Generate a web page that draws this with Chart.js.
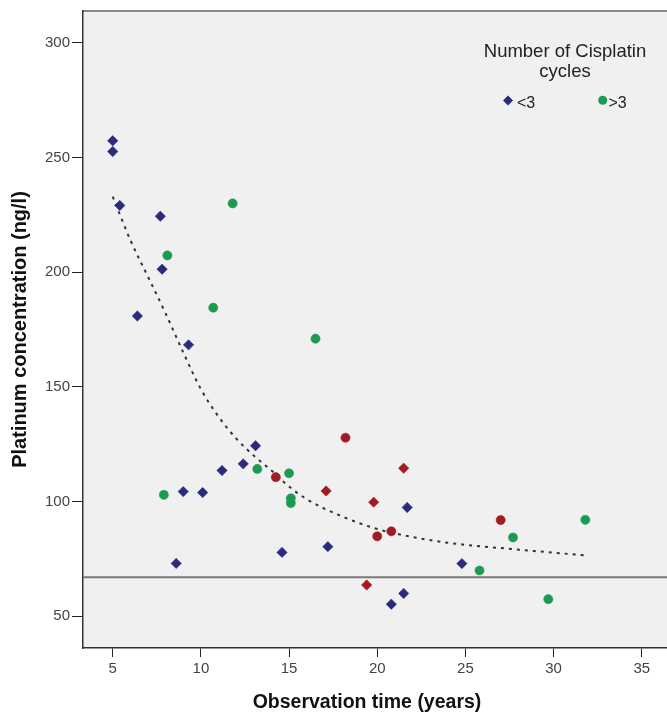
<!DOCTYPE html>
<html>
<head>
<meta charset="utf-8">
<script src="https://cdn.jsdelivr.net/npm/chart.js@4.4.1/dist/chart.umd.min.js"></script>
<style>
  html, body { margin: 0; padding: 0; background: #ffffff; width: 667px; height: 719px; overflow: hidden; }
  canvas { display: block; }
</style>
</head>
<body>
<canvas id="chart" width="700" height="719"></canvas>
<script>
// Axis ticks
const xTickValues = [5, 10, 15, 20, 25, 30, 35];
const yTickValues = [50, 100, 150, 200, 250, 300];

// Patients with fewer than 3 cisplatin cycles (blue diamonds)
const lowCyclesYears = [5.0, 5.0, 5.4, 7.7, 7.8, 6.4, 9.3, 13.1, 12.4, 11.2, 9.0, 10.1, 8.6, 14.6, 17.2, 21.7, 21.5, 20.8, 24.8];
const lowCyclesPt    = [257.3, 252.6, 229.1, 224.4, 201.3, 180.9, 168.3, 124.3, 116.4, 113.5, 104.3, 103.9, 73.0, 77.8, 80.3, 97.4, 59.9, 55.2, 72.9];

// Patients with more than 3 cisplatin cycles (green circles)
const highCyclesYears = [11.8, 8.1, 10.7, 16.5, 13.2, 15.0, 15.1, 15.1, 7.9, 31.8, 27.7, 25.8, 29.7];
const highCyclesPt    = [230.0, 207.3, 184.5, 171.0, 114.2, 112.3, 101.4, 99.3, 102.9, 92.0, 84.3, 69.9, 57.4];

// Patients with 3 cycles (red markers)
const midDiamondYears = [21.5, 17.1, 19.8, 19.4];
const midDiamondPt    = [114.5, 104.6, 99.7, 63.6];
const midCircleYears  = [18.2, 14.25, 20.8, 20.0, 27.0];
const midCirclePt     = [127.8, 110.6, 87.0, 84.8, 91.9];

// Fitted decay curve
const fitYears = [5.0, 6.0, 7.0, 8.0, 9.0, 10.0, 11.0, 12.0, 13.0, 14.0, 15.0, 16.0, 18.0, 20.0, 22.0, 24.0, 28.0, 31.8];
const fitPt    = [233.0, 214.0, 198.0, 182.0, 165.0, 149.0, 137.0, 127.5, 120.0, 113.5, 106.5, 101.0, 93.5, 88.0, 84.5, 82.0, 79.0, 76.5];

// Reference level
const referenceLevel = 67;

const legendTitle = ['Number of Cisplatin', 'cycles'];
const legendLabels = ['<3', '>3'];

const BLUE = '#2b2a7c';
const GREEN = '#1b9a52';
const RED = '#a31b22';

const toPoints = (xs, ys) => xs.map((x, i) => ({ x: x, y: ys[i] }));

const panelPlugin = {
  id: 'panel',
  beforeDraw(chart) {
    const { ctx, chartArea: a } = chart;
    ctx.save();
    ctx.fillStyle = '#ffffff';
    ctx.fillRect(0, 0, chart.width, chart.height);
    ctx.fillStyle = '#f0f0f0';
    ctx.fillRect(a.left, a.top, a.right - a.left, a.bottom - a.top);
    // top frame line
    ctx.strokeStyle = '#8a8a8a';
    ctx.lineWidth = 2;
    ctx.beginPath();
    ctx.moveTo(a.left, a.top);
    ctx.lineTo(chart.width, a.top);
    ctx.stroke();
    ctx.restore();
  },
  beforeDatasetsDraw(chart) {
    const { ctx, chartArea: a, scales } = chart;
    const y = scales.y.getPixelForValue(referenceLevel);
    ctx.save();
    ctx.strokeStyle = '#7a7a7a';
    ctx.lineWidth = 2;
    ctx.beginPath();
    ctx.moveTo(a.left, y);
    ctx.lineTo(chart.width, y);
    ctx.stroke();
    ctx.restore();
  },
  afterDraw(chart) {
    const { ctx } = chart;
    ctx.save();
    // x-axis title
    ctx.fillStyle = '#111111';
    ctx.font = 'bold 19.5px "Liberation Sans", Arial, sans-serif';
    ctx.textAlign = 'center';
    ctx.textBaseline = 'middle';
    ctx.fillText('Observation time (years)', 367, 703);

    // legend
    ctx.fillStyle = '#222222';
    ctx.font = '18.5px "Liberation Sans", Arial, sans-serif';
    ctx.textBaseline = 'alphabetic';
    ctx.fillText(legendTitle[0], 565, 57);
    ctx.fillText(legendTitle[1], 565, 77);

    // <3 marker (diamond)
    ctx.fillStyle = BLUE;
    ctx.beginPath();
    ctx.moveTo(508, 95.5);
    ctx.lineTo(513, 100.5);
    ctx.lineTo(508, 105.5);
    ctx.lineTo(503, 100.5);
    ctx.closePath();
    ctx.fill();
    // >3 marker (circle)
    ctx.fillStyle = GREEN;
    ctx.beginPath();
    ctx.arc(602.7, 100.3, 4.5, 0, Math.PI * 2);
    ctx.fill();

    ctx.fillStyle = '#222222';
    ctx.font = '16px "Liberation Sans", Arial, sans-serif';
    ctx.textAlign = 'left';
    ctx.fillText(legendLabels[0], 517, 107.5);
    ctx.fillText(legendLabels[1], 608.5, 107.5);
    ctx.restore();
  }
};

const tickFont = { family: '"Liberation Sans", Arial, sans-serif', size: 15 };

new Chart(document.getElementById('chart'), {
  type: 'scatter',
  data: {
    datasets: [
      {
        label: 'fit',
        data: toPoints(fitYears, fitPt),
        showLine: true,
        pointRadius: 0,
        borderColor: '#333333',
        borderWidth: 2,
        borderDash: [3, 5],
        cubicInterpolationMode: 'monotone',
        order: 10
      },
      {
        label: legendLabels[0],
        data: toPoints(lowCyclesYears, lowCyclesPt),
        pointStyle: 'rectRot',
        pointRadius: 5.2,
        backgroundColor: BLUE,
        borderColor: BLUE,
        borderWidth: 0.5,
        order: 1
      },
      {
        label: legendLabels[1],
        data: toPoints(highCyclesYears, highCyclesPt),
        pointStyle: 'circle',
        pointRadius: 4.6,
        backgroundColor: GREEN,
        borderColor: GREEN,
        borderWidth: 0.5,
        order: 1
      },
      {
        label: '3 (diamond)',
        data: toPoints(midDiamondYears, midDiamondPt),
        pointStyle: 'rectRot',
        pointRadius: 5.2,
        backgroundColor: RED,
        borderColor: RED,
        borderWidth: 0.5,
        order: 1
      },
      {
        label: '3 (circle)',
        data: toPoints(midCircleYears, midCirclePt),
        pointStyle: 'circle',
        pointRadius: 4.6,
        backgroundColor: RED,
        borderColor: RED,
        borderWidth: 0.5,
        order: 1
      }
    ]
  },
  options: {
    responsive: false,
    devicePixelRatio: 1,
    animation: false,
    events: [],
    layout: { padding: { top: 8, left: 0, right: 0, bottom: 0 } },
    plugins: {
      legend: { display: false },
      tooltip: { enabled: false },
      title: { display: false }
    },
    scales: {
      x: {
        type: 'linear',
        min: 3.315,
        max: 37.98,
        afterBuildTicks: (s) => { s.ticks = xTickValues.map(v => ({ value: v })); },
        afterFit: (s) => { s.height = 71; },
        grid: { drawOnChartArea: false, drawTicks: true, tickLength: 9, color: '#222222', lineWidth: 1 },
        border: { display: true, color: '#333333', width: 1.5 },
        ticks: { font: tickFont, color: '#444444', padding: 3, maxRotation: 0 }
      },
      y: {
        type: 'linear',
        min: 36.1,
        max: 313.9,
        afterBuildTicks: (s) => { s.ticks = yTickValues.map(v => ({ value: v })); },
        afterFit: (s) => { s.width = 83; },
        grid: { drawOnChartArea: false, drawTicks: true, tickLength: 11, color: '#222222', lineWidth: 1 },
        border: { display: true, color: '#333333', width: 1.5 },
        ticks: { font: tickFont, color: '#444444', padding: 2 },
        title: {
          display: true,
          text: 'Platinum concentration (ng/l)',
          color: '#111111',
          font: { family: '"Liberation Sans", Arial, sans-serif', size: 20, weight: 'bold' },
          padding: { top: 8, bottom: 0 }
        }
      }
    }
  },
  plugins: [panelPlugin]
});
</script>
</body>
</html>
